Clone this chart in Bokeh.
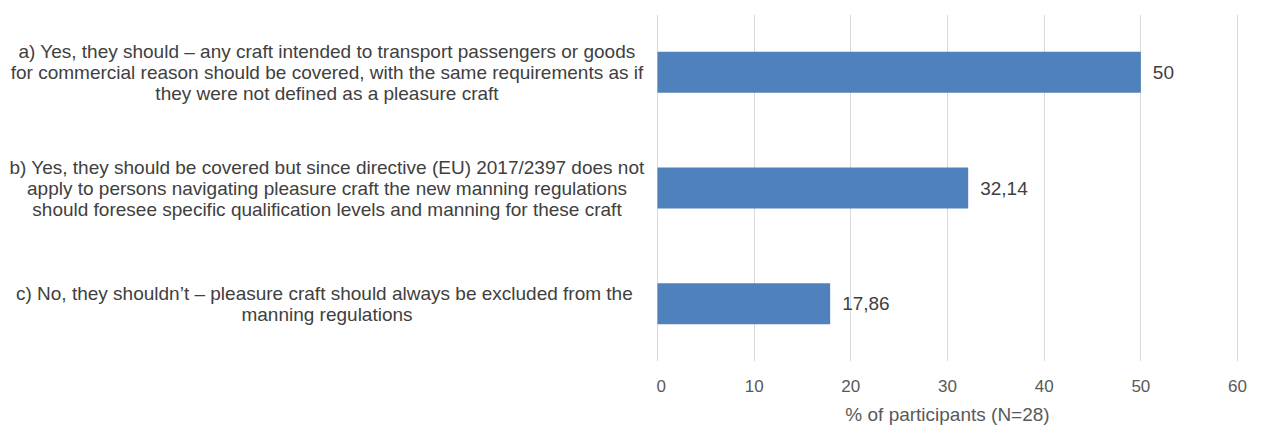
from bokeh.plotting import figure
from bokeh.models import Range1d, FixedTicker, ColumnDataSource
from bokeh.layouts import row
from bokeh.core.properties import value
from bokeh.embed import file_html
from bokeh.resources import INLINE

categories = [
    "a) Yes, they should \u2013 any craft intended to transport passengers or goods\nfor commercial reason should be covered, with the same requirements as if\nthey were not defined as a pleasure craft",
    "b) Yes, they should be covered but since directive (EU) 2017/2397 does not\napply to persons navigating pleasure craft the new manning regulations\nshould foresee specific qualification levels and manning for these craft",
    "c) No, they shouldn\u2019t \u2013 pleasure craft should always  be excluded from the\nmanning regulations",
]
values = [50, 32.14, 17.86]
x_ticks = [0, 10, 20, 30, 40, 50, 60]
axis_title = "% of participants (N=28)"

FONT = "Liberation Sans"
BAR = "#4F81BD"
TOP, BOTTOM = 14, 72
LEFT_W = 656

idx = list(range(len(categories)))
val_labels = [f"{v:g}".replace(".", ",") for v in values]
src = ColumnDataSource(dict(y=idx, v=values, lab=val_labels))
cat_src = ColumnDataSource(dict(y=idx, cat=categories, x=[326.5] * len(categories)))

y_range = Range1d(len(categories) - 0.5, -0.5)

# left panel: category labels
pl = figure(width=LEFT_W, height=433, output_backend="svg", toolbar_location=None,
            x_range=Range1d(0, LEFT_W), y_range=y_range,
            x_axis_location=None, y_axis_location=None,
            min_border_left=0, min_border_right=0, min_border_top=TOP, min_border_bottom=BOTTOM)
pl.outline_line_color = None
pl.xgrid.grid_line_color = None
pl.ygrid.grid_line_color = None
pl.text(x="x", y="y", text="cat", source=cat_src, text_align="center",
        text_baseline="middle", text_font=value(FONT), text_font_size="19px",
        text_color="#404040", text_line_height=1.0)

# right panel: bars
p = figure(width=1264 - LEFT_W, height=433, output_backend="svg", toolbar_location=None,
           x_range=Range1d(-0.1, 60.1), y_range=y_range,
           y_axis_location=None,
           min_border_left=0, min_border_right=26, min_border_top=TOP, min_border_bottom=BOTTOM)
p.outline_line_color = None

p.hbar(y="y", right="v", left=0, height=0.354, source=src, color=BAR, line_color=None)
p.text(x="v", y="y", text="lab", source=src, x_offset=12, text_align="left",
       text_baseline="middle", text_font=value(FONT), text_font_size="19px",
       text_color="#404040")

xa = p.xaxis[0]
xa.ticker = FixedTicker(ticks=x_ticks)
xa.axis_line_color = None
xa.major_tick_line_color = None
xa.minor_tick_line_color = None
xa.major_tick_out = 0
xa.major_tick_in = 0
xa.major_label_standoff = 18
xa.major_label_text_font = FONT
xa.major_label_text_font_size = "17px"
xa.major_label_text_color = "#595959"
xa.axis_label = axis_title
xa.axis_label_standoff = 9
xa.axis_label_text_font = FONT
xa.axis_label_text_font_size = "19px"
xa.axis_label_text_font_style = "normal"
xa.axis_label_text_color = "#595959"

p.xgrid.grid_line_color = "#D9D9D9"
p.xgrid.grid_line_width = 1
p.xgrid.ticker = FixedTicker(ticks=x_ticks)
p.ygrid.grid_line_color = None

layout = row(pl, p, spacing=0)
open("out.html", "w").write(file_html(layout, INLINE))
